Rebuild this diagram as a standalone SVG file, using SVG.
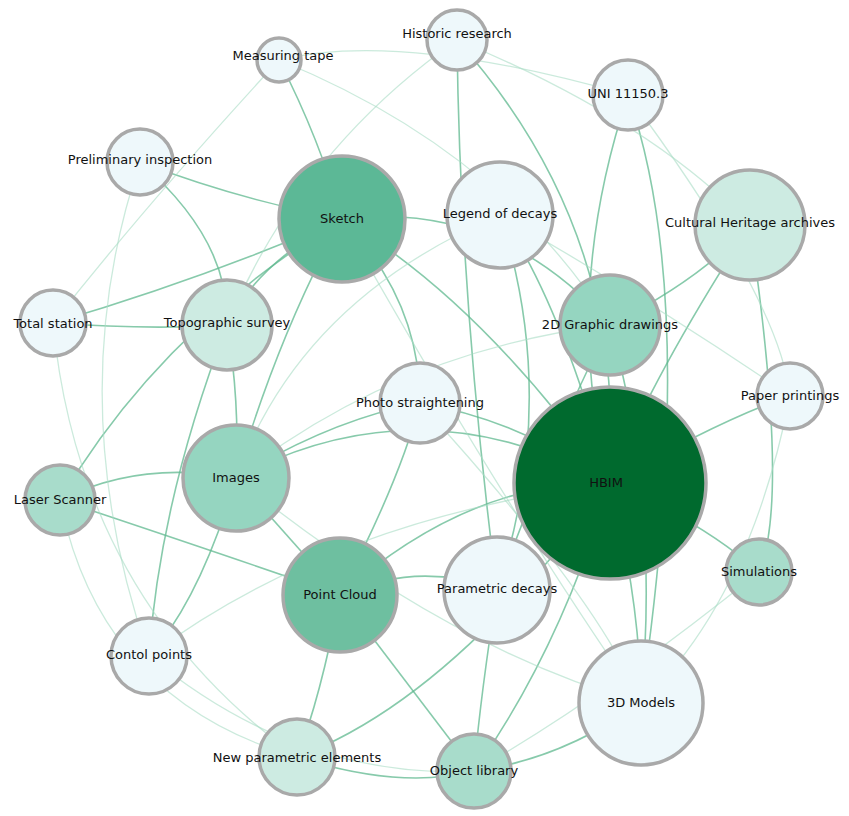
<svg xmlns="http://www.w3.org/2000/svg" width="849" height="816" viewBox="0 0 849 816">
<style>
.e{fill:none;stroke:#5fb88f;stroke-width:1.6;opacity:.75}
.f{fill:none;stroke:#a8dcc4;stroke-width:1.3;opacity:.6}
circle{stroke:#a9a9a9;stroke-width:3.5}
.l{fill:#eef8fb}.m{fill:#cdebe2}.t{fill:#a8dccb}.s{fill:#5cb896}.p{fill:#6ebfa0}.i{fill:#95d5c0}
text{font-family:"DejaVu Sans",sans-serif;font-size:13px;fill:#111;text-anchor:middle;dominant-baseline:middle}
</style>
<rect width="849" height="816" fill="#fff"/>
<g id="connectors">
<path class="e" d="M342 219 Q480 300 610 483"/>
<path class="e" d="M342 219 Q280 330 236 478"/>
<path class="e" d="M342 219 Q200 280 53 323"/>
<path class="e" d="M342 219 Q260 260 227 325"/>
<path class="e" d="M342 219 Q420 300 420 403"/>
<path class="e" d="M342 219 Q160 330 60 500"/>
<path class="e" d="M342 219 Q500 200 610 325"/>
<path class="e" d="M457 40 Q600 200 610 400"/>
<path class="e" d="M457 40 Q460 300 497 590"/>
<path class="e" d="M628 95 Q560 300 610 483"/>
<path class="e" d="M628 95 Q700 300 641 703"/>
<path class="e" d="M750 225 Q700 280 610 325"/>
<path class="e" d="M750 225 Q650 380 610 483"/>
<path class="e" d="M750 225 Q790 500 759 572"/>
<path class="e" d="M610 325 Q560 420 497 590"/>
<path class="e" d="M610 325 Q660 500 641 703"/>
<path class="e" d="M500 215 Q560 300 610 483"/>
<path class="e" d="M500 215 Q560 400 497 590"/>
<path class="e" d="M236 478 Q420 380 610 483"/>
<path class="e" d="M236 478 Q300 550 340 595"/>
<path class="e" d="M236 478 Q140 460 60 500"/>
<path class="e" d="M236 478 Q200 600 149 656"/>
<path class="e" d="M236 478 Q330 420 420 403"/>
<path class="e" d="M340 595 Q470 480 610 483"/>
<path class="e" d="M340 595 Q420 700 474 771"/>
<path class="e" d="M340 595 Q320 700 297 757"/>
<path class="e" d="M340 595 Q420 560 497 590"/>
<path class="e" d="M340 595 Q400 480 420 403"/>
<path class="e" d="M340 595 Q240 560 60 500"/>
<path class="e" d="M610 483 Q560 650 474 771"/>
<path class="e" d="M610 483 Q450 700 297 757"/>
<path class="e" d="M610 483 Q640 600 641 703"/>
<path class="e" d="M610 483 Q700 520 759 572"/>
<path class="e" d="M610 483 Q720 420 790 396"/>
<path class="e" d="M610 483 Q520 420 420 403"/>
<path class="e" d="M497 590 Q480 700 474 771"/>
<path class="e" d="M227 325 Q240 400 236 478"/>
<path class="e" d="M227 325 Q160 500 149 656"/>
<path class="e" d="M140 162 Q240 200 342 219"/>
<path class="e" d="M140 162 Q230 240 227 325"/>
<path class="e" d="M279 60 Q320 140 342 219"/>
<path class="e" d="M53 323 Q150 330 227 325"/>
<path class="e" d="M297 757 Q400 790 474 771"/>
<path class="e" d="M474 771 Q560 760 641 703"/>
<path class="f" d="M279 60 Q400 30 628 95"/>
<path class="f" d="M279 60 Q150 200 53 323"/>
<path class="f" d="M457 40 Q650 120 750 225"/>
<path class="f" d="M457 40 Q300 150 227 325"/>
<path class="f" d="M140 162 Q60 400 149 656"/>
<path class="f" d="M53 323 Q80 600 297 757"/>
<path class="f" d="M60 500 Q100 700 297 757"/>
<path class="f" d="M149 656 Q300 780 474 771"/>
<path class="f" d="M149 656 Q330 520 610 483"/>
<path class="f" d="M790 396 Q750 600 641 703"/>
<path class="f" d="M790 396 Q650 300 500 215"/>
<path class="f" d="M759 572 Q600 700 474 771"/>
<path class="f" d="M628 95 Q780 300 790 396"/>
<path class="f" d="M500 215 Q300 300 236 478"/>
<path class="f" d="M420 403 Q600 600 641 703"/>
<path class="f" d="M236 478 Q450 650 641 703"/>
<path class="f" d="M342 219 Q500 500 641 703"/>
<path class="f" d="M610 325 Q400 350 236 478"/>
<path class="f" d="M279 60 Q500 150 610 325"/>
</g>
<g id="n-measuring"><circle class="l" cx="279" cy="60" r="22"/><text x="283" y="56">Measuring tape</text></g>
<g id="n-historic"><circle class="l" cx="457" cy="40" r="30"/><text x="457" y="34">Historic research</text></g>
<g id="n-uni"><circle class="l" cx="628" cy="95" r="35"/><text x="628" y="94">UNI 11150.3</text></g>
<g id="n-prelim"><circle class="l" cx="140" cy="162" r="33"/><text x="140" y="160">Preliminary inspection</text></g>
<g id="n-sketch"><circle class="s" cx="342" cy="219" r="63"/><text x="342" y="219">Sketch</text></g>
<g id="n-legend"><circle class="l" cx="500" cy="215" r="53"/><text x="500" y="214">Legend of decays</text></g>
<g id="n-cultural"><circle class="m" cx="750" cy="225" r="55"/><text x="750" y="223">Cultural Heritage archives</text></g>
<g id="n-total"><circle class="l" cx="53" cy="323" r="33"/><text x="53" y="324">Total station</text></g>
<g id="n-topo"><circle class="m" cx="227" cy="325" r="45"/><text x="227" y="323">Topographic survey</text></g>
<g id="n-2d"><circle class="i" cx="610" cy="325" r="50"/><text x="610" y="325">2D Graphic drawings</text></g>
<g id="n-paper"><circle class="l" cx="790" cy="396" r="33"/><text x="790" y="396">Paper printings</text></g>
<g id="n-photo"><circle class="l" cx="420" cy="403" r="40"/><text x="420" y="403">Photo straightening</text></g>
<g id="n-hbim"><circle cx="610" cy="483" r="96" fill="#006a2e"/><text x="606" y="483">HBIM</text></g>
<g id="n-images"><circle class="i" cx="236" cy="478" r="53"/><text x="236" y="478">Images</text></g>
<g id="n-laser"><circle class="t" cx="60" cy="500" r="35"/><text x="60" y="500">Laser Scanner</text></g>
<g id="n-pc"><circle class="p" cx="340" cy="595" r="57"/><text x="340" y="595">Point Cloud</text></g>
<g id="n-pdecay"><circle class="l" cx="497" cy="590" r="53"/><text x="497" y="589">Parametric decays</text></g>
<g id="n-sim"><circle class="t" cx="759" cy="572" r="33"/><text x="759" y="572">Simulations</text></g>
<g id="n-contol"><circle class="l" cx="149" cy="656" r="38"/><text x="149" y="655">Contol points</text></g>
<g id="n-3d"><circle class="l" cx="641" cy="703" r="62"/><text x="641" y="703">3D Models</text></g>
<g id="n-newpar"><circle class="m" cx="297" cy="757" r="38"/><text x="297" y="758">New parametric elements</text></g>
<g id="n-objlib"><circle class="t" cx="474" cy="771" r="37"/><text x="474" y="771">Object library</text></g>
</svg>
